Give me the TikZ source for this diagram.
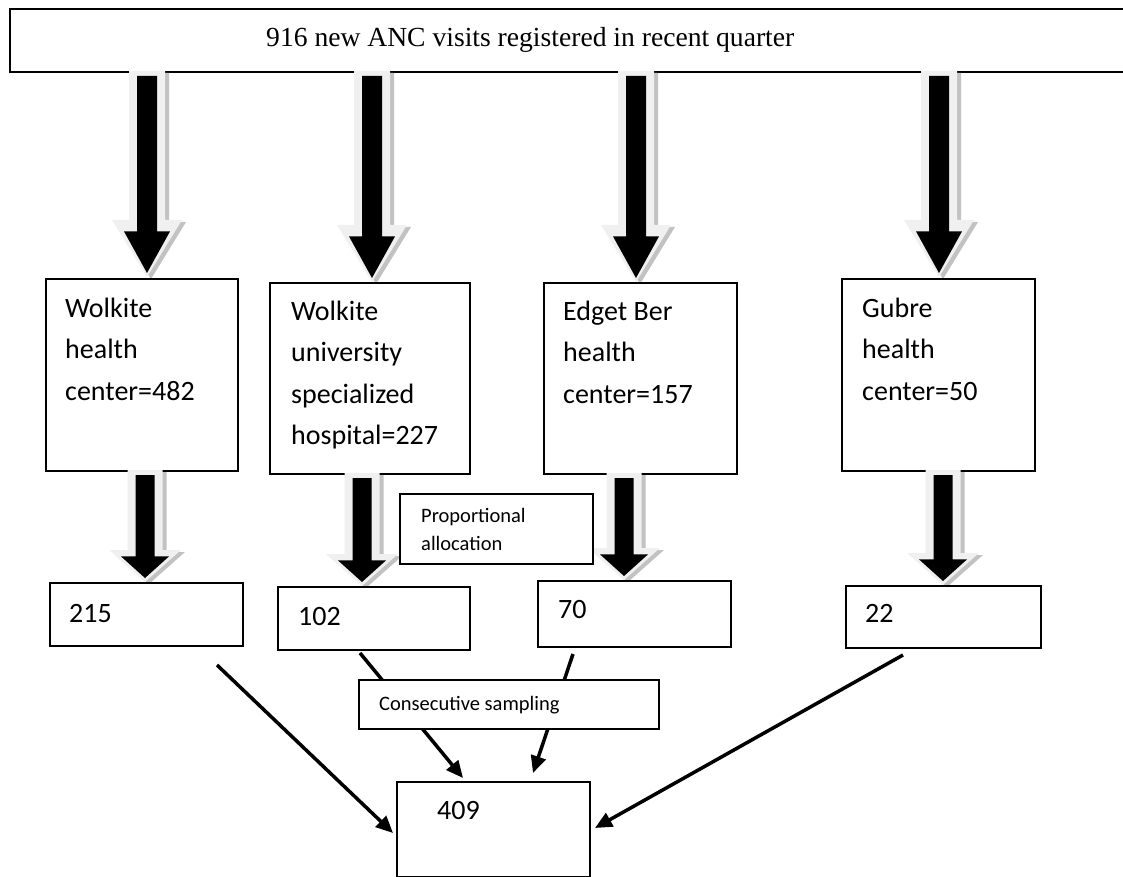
\documentclass[tikz,border=0pt]{standalone}
\usepackage{fontspec}
\setmainfont{Liberation Serif}
\newfontfamily\calib{Carlito}
\usetikzlibrary{arrows.meta,calc}
\tikzset{
 box/.style={draw=black, line width=2pt, fill=white, inner sep=0pt, anchor=north west},
 lbl/.style={inner sep=0pt, anchor=base west, font=\calib\fontsize{28}{41.5}\selectfont},
 small/.style={inner sep=0pt, anchor=base west, font=\calib\fontsize{20.5}{28}\selectfont},
 conn/.style={line width=3.5pt, -{Triangle[length=17pt,width=15pt]}},
 arrshadow/.style={fill=black!24},
 arrouter/.style={fill=black!6},
 arrinner/.style={fill=black},
}
% #1 cx, #2 top, #3 tip, #4 shaft half width, #5 head half width, #6 head length
\newcommand{\blockarrow}[6]{%
 \fill[arrshadow,xshift=4pt,yshift=-2pt] ({#1-#4},#2) -- ({#1+#4},#2) -- ({#1+#4},{#3-#6}) -- ({#1+#5},{#3-#6}) -- (#1,#3) -- ({#1-#5},{#3-#6}) -- ({#1-#4},{#3-#6}) -- cycle;
 \fill[arrouter] ({#1-#4},#2) -- ({#1+#4},#2) -- ({#1+#4},{#3-#6}) -- ({#1+#5},{#3-#6}) -- (#1,#3) -- ({#1-#5},{#3-#6}) -- ({#1-#4},{#3-#6}) -- cycle;
 \fill[arrinner] ({#1-#4+8},{#2+5}) -- ({#1+#4-8},{#2+5}) -- ({#1+#4-8},{#3-0.8*#6}) -- ({#1+#5-12},{#3-0.8*#6}) -- (#1,{#3-4}) -- ({#1-#5+12},{#3-0.8*#6}) -- ({#1-#4+8},{#3-0.8*#6}) -- cycle;
}
\begin{document}
\begin{tikzpicture}[x=1pt,y=-1pt]
\useasboundingbox (0,0) rectangle (1123,877);
\fill[white] (0,0) rectangle (1123,877);

% top box
\node[box, minimum width=1130pt, minimum height=63pt] (top) at (9,8) {};
\node[inner sep=0pt, anchor=base west, font=\fontsize{27.6}{34}\selectfont] (toptxt) at (266,47) {916 new ANC visits registered in recent quarter};

% top block arrows
\blockarrow{147}{71}{277}{18}{35}{57}
\blockarrow{372}{71}{282}{18}{35}{57}
\blockarrow{636}{71}{282}{18}{35}{57}
\blockarrow{939}{71}{277}{18}{35}{57}

% facility boxes
\node[box, minimum width=192pt, minimum height=192pt] (b1) at (45,278) {};
\node[box, minimum width=200pt, minimum height=191pt] (b2) at (269,282) {};
\node[box, minimum width=193pt, minimum height=191pt] (b3) at (543,282) {};
\node[box, minimum width=193pt, minimum height=192pt] (b4) at (841,278) {};
\node[lbl] (t1) at (65,317) {\parbox[t]{170pt}{\raggedright Wolkite\\health\\center=482}};
\node[lbl] (t2) at (291,320) {\parbox[t]{175pt}{\raggedright Wolkite\\university\\specialized\\hospital=227}};
\node[lbl] (t3) at (563,320) {\parbox[t]{170pt}{\raggedright Edget Ber\\health\\center=157}};
\node[lbl] (t4) at (862,317) {\parbox[t]{170pt}{\raggedright Gubre\\health\\center=50}};

% lower block arrows
\blockarrow{145}{470}{582}{17.5}{36}{32}
\blockarrow{362}{473}{586}{17.5}{36}{32}
\blockarrow{624}{473}{580}{17.5}{36}{32}
\blockarrow{943}{470}{585}{17.5}{36}{32}

% proportional allocation
\node[box, minimum width=193pt, minimum height=70pt] (prop) at (399,493) {};
\node[small] (proptxt) at (421,522) {\parbox[t]{170pt}{\raggedright Proportional\\allocation}};

% sample boxes
\node[box, minimum width=193pt, minimum height=63pt] (n1) at (49,582) {};
\node[box, minimum width=192pt, minimum height=63pt] (n2) at (277,586) {};
\node[box, minimum width=193pt, minimum height=66pt] (n3) at (537,580) {};
\node[box, minimum width=195pt, minimum height=62pt] (n4) at (845,585) {};
\node[lbl] (n1t) at (69,622) {215};
\node[lbl] (n2t) at (298,625) {102};
\node[lbl] (n3t) at (558,618) {70};
\node[lbl] (n4t) at (865,622) {22};

% connector end points
\coordinate (c1s) at (217,665);
\coordinate (c2s) at (360,653);
\coordinate (c3s) at (573,654);
\coordinate (c4s) at (903,655);
\coordinate (c1e) at (393,833);
\coordinate (c2e) at (463,778);
\coordinate (c3e) at (533,773);
\coordinate (c4e) at (595,828);
\draw[conn] (c1s) -- (c1e);
\draw[conn] (c2s) -- (c2e);
\draw[conn] (c3s) -- (c3e);
\draw[conn] (c4s) -- (c4e);

% consecutive sampling
\node[box, minimum width=300pt, minimum height=49pt] (cons) at (358,679) {};
\node[small] (constxt) at (379,710) {Consecutive sampling};

% final box
\node[box, minimum width=193pt, minimum height=95pt] (fin) at (396,781) {};
\node[lbl] (fint) at (437,819) {409};
\end{tikzpicture}
\end{document}
